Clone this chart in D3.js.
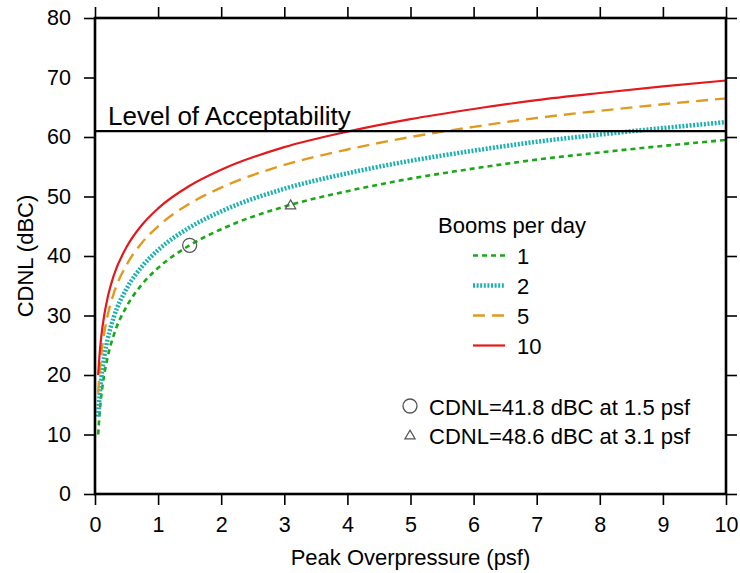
<!DOCTYPE html>
<html>
<head>
<meta charset="utf-8">
<script src="https://cdn.jsdelivr.net/npm/d3@7"></script>
<style>
  body { margin: 0; background: #fff; }
  text { font-family: "Liberation Sans", Arial, sans-serif; fill: #000; }
</style>
</head>
<body>
<div id="container"></div>
<script>
// values
const pressure = [0.05, 0.075, 0.1, 0.15, 0.2, 0.3, 0.5, 0.75, 1, 1.5, 2, 3, 4, 5, 6, 7, 8, 9, 10];
const booms1  = [10.0, 13.8, 16.5, 20.3, 23.0, 26.8, 31.5, 35.3, 38.0, 41.8, 44.5, 48.3, 50.9, 53.0, 54.7, 56.2, 57.4, 58.5, 59.5];
const booms2  = [13.0, 16.8, 19.5, 23.3, 26.0, 29.8, 34.5, 38.3, 41.0, 44.8, 47.5, 51.3, 53.9, 56.0, 57.7, 59.2, 60.4, 61.5, 62.5];
const booms5  = [17.0, 20.8, 23.5, 27.3, 30.0, 33.8, 38.5, 42.3, 45.0, 48.8, 51.5, 55.3, 57.9, 60.0, 61.7, 63.2, 64.4, 65.5, 66.5];
const booms10 = [20.0, 23.8, 26.5, 30.3, 33.0, 36.8, 41.5, 45.3, 48.0, 51.8, 54.5, 58.3, 60.9, 63.0, 64.7, 66.2, 67.4, 68.5, 69.5];
const seriesNames = ['1', '2', '5', '10'];
const acceptLevel = 61;
const markPoints = [
  {shape: 'circle', p: 1.5, cdnl: 41.8, label: 'CDNL=41.8 dBC at 1.5 psf'},
  {shape: 'triangle', p: 3.1, cdnl: 48.6, label: 'CDNL=48.6 dBC at 3.1 psf'}
];
const xTicks = d3.range(0, 11);
const yTicks = d3.range(0, 81, 10);

const width = 740;
const height = 573;
const margin = { top: 18, bottom: 79, left: 95, right: 14 };

const styles = [
  {color: '#18a818', w: 2.6, dash: '5,4'},
  {color: '#1fb0b0', w: 4.5, dash: '2,1.6'},
  {color: '#e09a1e', w: 2.4, dash: '12,7'},
  {color: '#e3191c', w: 2.2, dash: null}
];
const allSeries = [booms1, booms2, booms5, booms10];

const svg = d3.select('#container')
  .append('svg')
  .attr('width', width)
  .attr('height', height);

const x = d3.scaleLinear()
  .domain([0, 10])
  .range([margin.left, width - margin.right]);

const y = d3.scaleLinear()
  .domain([0, 80])
  .range([height - margin.bottom, margin.top]);

const line = d3.line()
  .x((d, i) => x(pressure[i]))
  .y(d => y(d))
  .curve(d3.curveMonotoneX);

// curves
svg.append('g')
  .selectAll('path')
  .data(allSeries)
  .join('path')
    .attr('fill', 'none')
    .attr('stroke', (d, i) => styles[i].color)
    .attr('stroke-width', (d, i) => styles[i].w)
    .attr('stroke-dasharray', (d, i) => styles[i].dash)
    .attr('d', line);

// acceptability line
svg.append('line')
  .attr('x1', x(0)).attr('x2', x(10))
  .attr('y1', y(acceptLevel)).attr('y2', y(acceptLevel))
  .attr('stroke', '#000').attr('stroke-width', 2.2);
svg.append('text')
  .attr('x', x(0) + 13).attr('y', y(acceptLevel) - 6)
  .attr('font-size', '26px')
  .text('Level of Acceptability');

// markers
function marker(g, shape, cx, cy) {
  if (shape === 'circle') {
    g.append('circle').attr('cx', cx).attr('cy', cy).attr('r', 7)
      .attr('fill', 'none').attr('stroke', '#555').attr('stroke-width', 1.3);
  } else {
    g.append('path')
      .attr('d', d3.symbol(d3.symbolTriangle2, 75)())
      .attr('transform', `translate(${cx},${cy + 1})`)
      .attr('fill', 'none').attr('stroke', '#555').attr('stroke-width', 1.2);
  }
}
markPoints.forEach(m => marker(svg, m.shape, x(m.p), y(m.cdnl)));

// axes
function yAxis(g) {
  g.attr('transform', `translate(${margin.left},0)`)
    .call(d3.axisLeft(y).tickValues(yTicks).tickSize(11).tickPadding(13))
    .attr('font-size', '21.5px');
}
function xAxis(g) {
  g.attr('transform', `translate(0,${height - margin.bottom})`)
    .call(d3.axisBottom(x).tickValues(xTicks).tickSize(11).tickPadding(12))
    .attr('font-size', '21.5px');
}
function yAxisRight(g) {
  g.attr('transform', `translate(${width - margin.right},0)`)
    .call(d3.axisRight(y).tickValues(yTicks).tickSize(11).tickFormat(''));
}
function xAxisTop(g) {
  g.attr('transform', `translate(0,${margin.top})`)
    .call(d3.axisTop(x).tickValues(xTicks).tickSize(11).tickFormat(''));
}
[xAxis, yAxis, yAxisRight, xAxisTop].forEach(f => {
  const g = svg.append('g').call(f);
  g.attr('font-family', null);
  g.select('.domain').remove();
  g.selectAll('.tick line').attr('stroke-width', 1.6);
});

// frame
svg.append('rect')
  .attr('x', x(0)).attr('y', y(80))
  .attr('width', x(10) - x(0)).attr('height', y(0) - y(80))
  .attr('fill', 'none').attr('stroke', '#000').attr('stroke-width', 2.6);

// axis titles
svg.append('text')
  .attr('x', (x(0) + x(10)) / 2).attr('y', 565)
  .attr('text-anchor', 'middle').attr('font-size', '22px')
  .text('Peak Overpressure (psf)');
svg.append('text')
  .attr('transform', `translate(33,${(y(0) + y(80)) / 2}) rotate(-90)`)
  .attr('text-anchor', 'middle').attr('font-size', '22px')
  .text('CDNL (dBC)');

// legend
const legend = svg.append('g');
legend.append('text')
  .attr('x', 438).attr('y', 233).attr('font-size', '22px')
  .text('Booms per day');
seriesNames.forEach((name, i) => {
  const ly = 255.5 + i * 30;
  legend.append('line')
    .attr('x1', 473).attr('x2', 505).attr('y1', ly).attr('y2', ly)
    .attr('stroke', styles[i].color)
    .attr('stroke-width', styles[i].w)
    .attr('stroke-dasharray', styles[i].dash);
  legend.append('text')
    .attr('x', 517).attr('y', ly + 8).attr('font-size', '22px')
    .text(name);
});
markPoints.forEach((m, i) => {
  const ly = 406 + i * 29;
  marker(legend, m.shape, 410, ly);
  legend.append('text')
    .attr('x', 429).attr('y', ly + 9).attr('font-size', '22px')
    .text(m.label);
});
</script>
</body>
</html>
